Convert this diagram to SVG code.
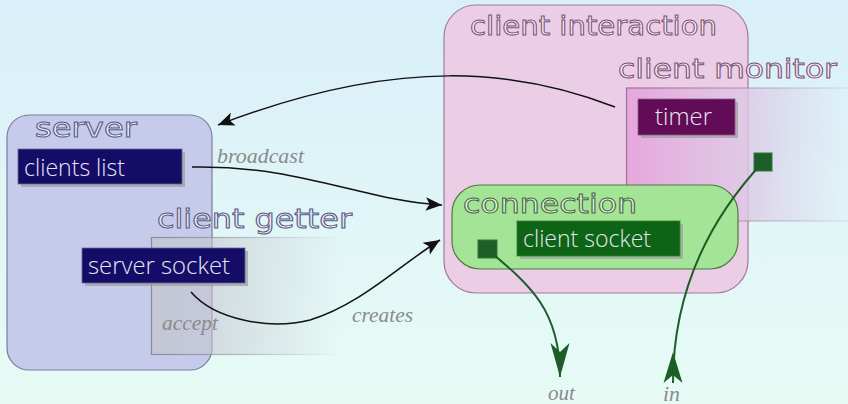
<svg xmlns="http://www.w3.org/2000/svg" width="848" height="404" viewBox="0 0 848 404">
<defs>
<linearGradient id="bg" x1="0" y1="0" x2="0" y2="1">
<stop offset="0" stop-color="#d9eff9"/><stop offset="1" stop-color="#e7fbf5"/>
</linearGradient>
<linearGradient id="getterFill" x1="151" y1="0" x2="340" y2="0" gradientUnits="userSpaceOnUse">
<stop offset="0" stop-color="#c4c6d0" stop-opacity="0.85"/><stop offset="1" stop-color="#c4c6d0" stop-opacity="0"/>
</linearGradient>
<linearGradient id="getterStroke" x1="151" y1="0" x2="340" y2="0" gradientUnits="userSpaceOnUse">
<stop offset="0" stop-color="#8a8a98"/><stop offset="1" stop-color="#8a8a98" stop-opacity="0"/>
</linearGradient>
<linearGradient id="monFill" x1="626" y1="0" x2="848" y2="0" gradientUnits="userSpaceOnUse">
<stop offset="0" stop-color="#e6a6dc"/><stop offset="0.55" stop-color="#ddc8e6" stop-opacity="0.8"/><stop offset="1" stop-color="#d8d0e8" stop-opacity="0"/>
</linearGradient>
<linearGradient id="monStroke" x1="626" y1="0" x2="848" y2="0" gradientUnits="userSpaceOnUse">
<stop offset="0" stop-color="#9a7090"/><stop offset="1" stop-color="#9a7090" stop-opacity="0.15"/>
</linearGradient>
<marker id="ab" markerUnits="userSpaceOnUse" markerWidth="20" markerHeight="20" viewBox="-14 -7 16 14" refX="0" refY="0" orient="auto" overflow="visible">
<path d="M0,0 L-13,-5.5 L-10,0 L-13,5.5 Z" fill="#111"/>
</marker>
<marker id="ag" markerUnits="userSpaceOnUse" markerWidth="40" markerHeight="24" viewBox="-36 -12 38 24" refX="0" refY="0" orient="auto" overflow="visible">
<path d="M0,0 L-34,-9.5 L-25,0 L-34,9.5 Z" fill="#1d5e28"/>
</marker>
<marker id="ags" markerUnits="userSpaceOnUse" markerWidth="40" markerHeight="24" viewBox="-2 -12 38 24" refX="0" refY="0" orient="auto" overflow="visible">
<path d="M31,0 L0,-9.5 L8,0 L0,9.5 Z" fill="#1d5e28"/>
</marker>
</defs>
<style>
.title{font-family:"DejaVu Sans",sans-serif;font-size:27px;stroke-width:1px}
.tS{fill:#eceefb;stroke:#5a5a82}
.tP{fill:#faeef8;stroke:#7a5274}
.tG{fill:#e4f8de;stroke:#466644}
.lbl{font-family:"Open Sans","DejaVu Sans",sans-serif;font-weight:300;font-size:23px;fill:#e6e6f4}
.edge{font-family:"Liberation Serif",serif;font-style:italic;font-size:20px;fill:#8a8a8a}
.shadow{fill:#9c9c9c;opacity:0.7}
.conn{fill:none;stroke:#111;stroke-width:1.5}
.gconn{fill:none;stroke:#1d5e28;stroke-width:2}
.sq{fill:#1d5e28;stroke:#2e7a3a;stroke-width:1}
</style>
<rect width="848" height="404" fill="url(#bg)"/>

<g id="server">
<rect x="7" y="115" width="205" height="255" rx="22" fill="#c6cbec" stroke="#7c7c9c" stroke-width="1.2"/>
<text class="title tS" x="35" y="137" textLength="102" lengthAdjust="spacingAndGlyphs">server</text>
</g>
<g id="clients-list">
<rect class="shadow" x="21" y="152" width="164" height="35"/>
<rect x="18" y="149" width="164" height="35" fill="#140c66" stroke="#6a6a90" stroke-width="0.8"/>
<text class="lbl" x="24" y="176" textLength="101" lengthAdjust="spacingAndGlyphs">clients list</text>
</g>
<g id="client-getter">
<text class="title tS" x="157" y="228" textLength="195" lengthAdjust="spacingAndGlyphs">client getter</text>
<rect x="151.5" y="237.5" width="200" height="117" fill="url(#getterFill)" stroke="url(#getterStroke)" stroke-width="1.2"/>
</g>
<g id="server-socket">
<rect class="shadow" x="85" y="251" width="163" height="35"/>
<rect x="82" y="248" width="163" height="35" fill="#140c66" stroke="#6a6a90" stroke-width="0.8"/>
<text class="lbl" x="88" y="274" textLength="142" lengthAdjust="spacingAndGlyphs">server socket</text>
</g>

<g id="client-interaction">
<rect x="444" y="5" width="304" height="288" rx="32" fill="#eccde6" stroke="#a07c9c" stroke-width="1.2"/>
<text class="title tP" x="470" y="35" textLength="247" lengthAdjust="spacingAndGlyphs">client interaction</text>
</g>
<g id="client-monitor">
<text class="title tP" x="618" y="78" textLength="219" lengthAdjust="spacingAndGlyphs">client monitor</text>
<rect x="626.5" y="88" width="230" height="133" fill="url(#monFill)" stroke="url(#monStroke)" stroke-width="1.2"/>
</g>
<g id="timer">
<rect class="shadow" x="641" y="102" width="97" height="36"/>
<rect x="638" y="99" width="97" height="36" fill="#620c58" stroke="#8a5a86" stroke-width="0.8"/>
<text class="lbl" x="655" y="125" textLength="57" lengthAdjust="spacingAndGlyphs">timer</text>
</g>
<g id="monitor-port">
<rect class="sq" x="754" y="153" width="18" height="18"/>
</g>
<g id="connection">
<rect x="452" y="185" width="286" height="84" rx="28" fill="#a3e496" stroke="#4e7a44" stroke-width="1.2"/>
<text class="title tG" x="463" y="213" textLength="174" lengthAdjust="spacingAndGlyphs">connection</text>
</g>
<g id="client-socket">
<rect class="shadow" x="520" y="224" width="163" height="35"/>
<rect x="517" y="221" width="163" height="35" fill="#0c6414" stroke="#3a7a3a" stroke-width="0.8"/>
<text class="lbl" x="523" y="247" textLength="128" lengthAdjust="spacingAndGlyphs">client socket</text>
</g>
<g id="connection-port">
<rect class="sq" x="478" y="240" width="19" height="18"/>
</g>

<g id="connectors">
<path class="conn" d="M615,107 C520,70 400,55 218,125" marker-end="url(#ab)"/>
<path class="conn" d="M192,167 C300,165 360,200 442,205" marker-end="url(#ab)"/>
<path class="conn" d="M191,292 C215,320 270,330 310,320 C360,305 400,265 440,240" marker-end="url(#ab)"/>
<path class="gconn" d="M488,250 C530,285 560,310 560,377" marker-end="url(#ag)"/>
<path class="gconn" d="M673,383 C673,320 690,240 763,162" marker-start="url(#ags)"/>
<text class="edge" x="217" y="163" textLength="87" lengthAdjust="spacingAndGlyphs">broadcast</text>
<text class="edge" x="162" y="330" textLength="56" lengthAdjust="spacingAndGlyphs">accept</text>
<text class="edge" x="352" y="322" textLength="61" lengthAdjust="spacingAndGlyphs">creates</text>
<text class="edge" x="548" y="400" textLength="27" lengthAdjust="spacingAndGlyphs">out</text>
<text class="edge" x="663" y="401" textLength="17" lengthAdjust="spacingAndGlyphs">in</text>
</g>
</svg>
